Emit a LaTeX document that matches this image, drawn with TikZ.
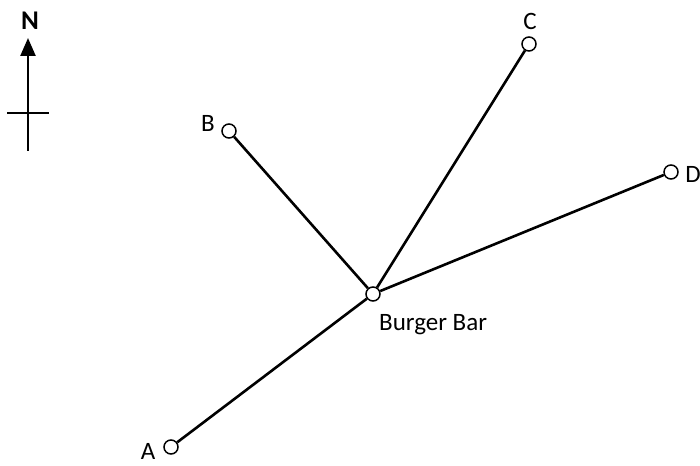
\documentclass[tikz,border=0pt]{standalone}
\usepackage{fontspec}
\setmainfont{Carlito}
\usetikzlibrary{arrows.meta}
\begin{document}
\begin{tikzpicture}[x=1pt,y=-1pt,
  site/.style={circle,draw,fill=white,line width=1.5pt,minimum size=14pt,inner sep=0pt},
  road/.style={line width=2.6pt},
  lbl/.style={font=\fontsize{25}{28}\selectfont,inner sep=0pt}]
\useasboundingbox (0,0) rectangle (700,465);
\node[site] (O) at (373,294) {};
\node[site] (A) at (171,447) {};
\node[site] (B) at (229,131) {};
\node[site] (C) at (529,44) {};
\node[site] (D) at (671,172) {};
\draw[road] (O) -- (A);
\draw[road] (O) -- (B);
\draw[road] (O) -- (C);
\draw[road] (O) -- (D);
\node[lbl,anchor=west] (OL) at (379,325) {Burger Bar};
\node[lbl] (AL) at (148,451) {A};
\node[lbl] (BL) at (208,123) {B};
\node[lbl] (CL) at (530,21) {C};
\node[lbl] (DL) at (693,174) {D};
% north arrow
\coordinate (Nb) at (28,151);
\coordinate (Nt) at (28,38);
\coordinate (Cl) at (7,113);
\coordinate (Cr) at (49,113);
\draw[line width=2.4pt,-{Triangle[width=15pt,length=18pt]}] (Nb) -- (Nt);
\draw[line width=2.4pt] (Cl) -- (Cr);
\node[font=\bfseries\fontsize{27}{30}\selectfont,inner sep=0pt] (N) at (30,21) {N};
\end{tikzpicture}
\end{document}
